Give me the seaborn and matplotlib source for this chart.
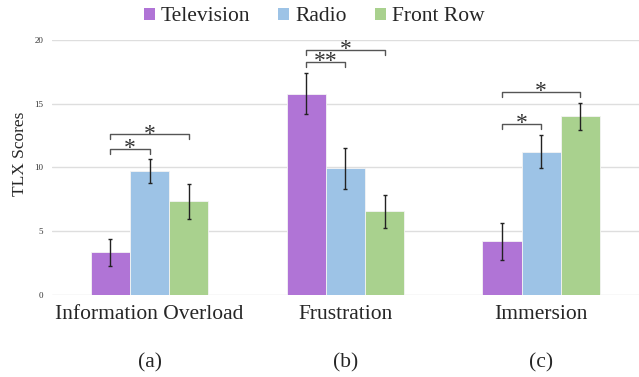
import matplotlib
matplotlib.use("Agg")
import matplotlib.pyplot as plt
import matplotlib.transforms as mtransforms
from matplotlib.patches import Patch
import numpy as np
import pandas as pd
import seaborn as sns

# values
categories = ["Information Overload", "Frustration", "Immersion"]
sub_labels = ["(a)", "(b)", "(c)"]
conditions = ["Television", "Radio", "Front Row"]
tv_means = [3.35, 15.8, 4.2]
radio_means = [9.75, 9.95, 11.25]
front_means = [7.35, 6.55, 14.0]
tv_err = [1.08, 1.6, 1.45]
radio_err = [0.93, 1.6, 1.3]
front_err = [1.37, 1.3, 1.07]
colors = ["#B074D6", "#9DC3E6", "#A9D18E"]

# significance brackets: (category index, compared condition, height, stars)
brackets = [
    (0, 1, 11.45, "*"), (0, 2, 12.6, "*"),
    (1, 1, 18.3, "**"), (1, 2, 19.2, "*"),
    (2, 1, 13.4, "*"), (2, 2, 15.9, "*"),
]

frame = pd.DataFrame({
    "category": np.repeat(categories, 3),
    "condition": conditions * 3,
    "score": [v for trio in zip(tv_means, radio_means, front_means) for v in trio],
})
errors = {"Television": tv_err, "Radio": radio_err, "Front Row": front_err}

sns.set_style("white")
plt.rcParams["font.family"] = ["Liberation Serif", "DejaVu Serif"]

fig = plt.figure(figsize=(6.39, 3.77), dpi=100)
ax = fig.add_axes([0.081, 0.2175, 0.919, 0.6765])

sns.barplot(data=frame, x="category", y="score", hue="condition", order=categories,
            hue_order=conditions, palette=colors, width=0.6, errorbar=None,
            saturation=1, legend=False, ax=ax, linewidth=0.6, edgecolor="#F4F4F4")

centers = {}
for cond, container in zip(conditions, ax.containers):
    xs = [p.get_x() + p.get_width() / 2 for p in container.patches]
    ys = [p.get_height() for p in container.patches]
    centers[cond] = xs
    ax.errorbar(xs, ys, yerr=errors[cond], fmt="none", ecolor="#222222",
                elinewidth=1.0, capsize=1.5, capthick=1.0)

for cat, cond_idx, h, stars in brackets:
    x0 = centers["Television"][cat]
    x1 = centers[conditions[cond_idx]][cat]
    tick = 0.4
    ax.plot([x0, x0, x1, x1], [h - tick, h, h, h - tick], color="#555555", lw=1.0,
            clip_on=False)
    ax.text((x0 + x1) / 2, h - 0.8, stars, ha="center", va="bottom", fontsize=17,
            color="#333333", clip_on=False)

ax.set_ylim(0, 20)
ax.set_xlim(-0.5, 2.5)
ax.set_yticks([0, 5, 10, 15, 20])
ax.yaxis.grid(True, color="#DEDEDE", lw=1.0)
ax.set_axisbelow(True)
for side in ["top", "right", "left", "bottom"]:
    ax.spines[side].set_visible(False)
ax.tick_params(axis="y", labelsize=6.5, pad=6, length=0, labelcolor="#333333")
ax.tick_params(axis="x", labelsize=15.5, pad=7, length=0)
ax.set_xlabel("")
ax.set_ylabel("TLX Scores", fontsize=12.5)
ax.yaxis.set_label_coords(-0.041, 0.553)

trans = mtransforms.blended_transform_factory(ax.transData, ax.transAxes)
for i, lab in enumerate(sub_labels):
    ax.text(i, -0.267, lab, transform=trans, ha="center", va="center", fontsize=15.5)

handles = [Patch(facecolor=c, edgecolor="none") for c in colors]
fig.legend(handles, conditions, loc="center", bbox_to_anchor=(0.492, 0.955), ncol=3,
           frameon=False, fontsize=15.5, handlelength=0.5, handleheight=0.5,
           handletextpad=0.3, columnspacing=1.3)

fig.savefig("out.png", dpi=100)
